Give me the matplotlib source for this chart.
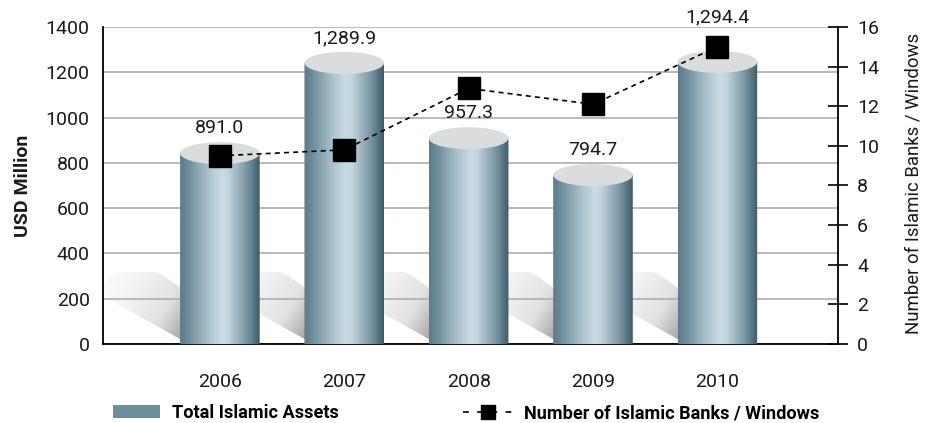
import numpy as np
import matplotlib
matplotlib.use("Agg")
import matplotlib.pyplot as plt
from matplotlib.patches import Ellipse, Polygon, Patch
from matplotlib.lines import Line2D
from matplotlib.colors import LinearSegmentedColormap

years = ["2006", "2007", "2008", "2009", "2010"]
assets = [891.0, 1289.9, 957.3, 794.7, 1294.4]     # USD million
banks = [9.5, 9.8, 12.9, 12.1, 15.0]               # number of banks / windows

plt.rcParams["font.family"] = ["Roboto", "DejaVu Sans"]

fig = plt.figure(figsize=(9.26, 4.23), dpi=100)
ax = fig.add_axes([103 / 926, 79 / 423, 735 / 926, 317 / 423])
xlim = (-0.94, 4.97)
ylim = (0, 1400)
ax.set_xlim(*xlim)
ax.set_ylim(*ylim)

x = np.arange(len(years))

cyl_cmap = LinearSegmentedColormap.from_list("cyl", [
    (0.00, "#5b7b8b"), (0.10, "#6e8c9b"), (0.22, "#8ba5b2"),
    (0.38, "#afc6d0"), (0.52, "#c9dbe4"), (0.60, "#c3d6df"),
    (0.70, "#a3b9c4"), (0.80, "#85a0ac"), (0.90, "#62808d"),
    (1.00, "#3e5a68"),
])
shadow_cmap = LinearSegmentedColormap.from_list("shd", ["#fcfcfc", "#e2e2e2", "#7a7a7a"])


def px_offset(cx, cy, dx, dy):
    # shift a data point by some pixels, back into data coords
    X0, Y0 = ax.transData.transform((cx, cy))
    return ax.transData.inverted().transform((X0 + dx, Y0 + dy))


bar_w = 0.64
ell_px = 11
ell_h = px_offset(0, 0, 0, ell_px)[1]

for c, v in zip(x, assets):
    # shadow behind the cylinder, thrown to the upper left
    shape_px = [(-116, 56), (-114, 64), (-109, 69), (-100, 72), (-64, 72),
                (-56, 68), (40, 0), (-31, 0), (-113, 46)]
    pts = np.array([px_offset(c, 0, dx, dy) for dx, dy in shape_px])
    shadow = Polygon(pts, closed=True, transform=ax.transData)
    gx, gy = np.meshgrid(np.linspace(-118, 42, 120), np.linspace(0, 74, 60))
    t = np.clip(((gx + 115) + 0.6 * (72 - gy)) / 140, 0, 1) ** 1.3
    lo = px_offset(c, 0, -118, 0)
    hi = px_offset(c, 0, 42, 74)
    im = ax.imshow(t, cmap=shadow_cmap, vmin=0, vmax=1, origin="lower",
                   extent=[lo[0], hi[0], lo[1], hi[1]], aspect="auto",
                   interpolation="bilinear", zorder=0.2, clip_path=shadow)
    im.set_clip_box(None)

    # cylinder body
    top_c = v - ell_h
    half = bar_w / 2
    th = np.linspace(np.pi, 2 * np.pi, 60)
    outline = [(c - half, top_c)] + list(zip(c + half * np.cos(th), ell_h * np.sin(th))) + [(c + half, top_c)]
    body = Polygon(outline, closed=True, transform=ax.transData)
    grad = np.linspace(0, 1, 256).reshape(1, -1)
    im = ax.imshow(grad, cmap=cyl_cmap, extent=[c - half, c + half, -ell_h, top_c],
                   aspect="auto", interpolation="bilinear", zorder=3, clip_path=body)
    im.set_clip_box(None)
    ax.add_patch(Ellipse((c, top_c), bar_w, 2 * ell_h, facecolor="#dadcde",
                         edgecolor="none", zorder=3.5, clip_on=False))

ax.set_xlim(*xlim)
ax.set_ylim(*ylim)

# value labels (2010 sits above the marker)
label_off = [10, 10, 10, 10, 24]
for c, v, off in zip(x, assets, label_off):
    ax.annotate(f"{v:,.1f}", (c, v), xytext=(0, off), textcoords="offset points",
                ha="center", va="center", fontsize=14, color="#1a1a1a", zorder=6)

ax.set_axisbelow(True)
ax.yaxis.grid(True, color="#b4b4b4", lw=1.3)
ax.set_yticks(range(0, 1401, 200))
ax.set_xticks(x)
ax.set_xticklabels(years)
ax.tick_params(axis="y", length=0, pad=9.5, labelsize=14, labelcolor="#1a1a1a")
ax.tick_params(axis="x", length=0, pad=21, labelsize=14, labelcolor="#1a1a1a")
for s in ["top", "right"]:
    ax.spines[s].set_visible(False)
for s in ["left", "bottom"]:
    ax.spines[s].set_color("black")
    ax.spines[s].set_linewidth(1.3)
ax.set_ylabel("USD Million", fontsize=14, fontweight="bold", color="#1a1a1a")
ax.yaxis.set_label_coords(-0.097, 0.5)

ax2 = ax.twinx()
ax2.set_ylim(0, 16)
ax2.set_yticks(range(0, 17, 2))
ax2.plot(x, banks, color="black", ls=(0, (3, 2.5)), lw=1.2, marker="s",
         ms=15.8, mfc="black", mec="black", zorder=5, clip_on=False)
ax2.tick_params(axis="y", direction="inout", length=14.4, width=1.2, pad=6.5,
                labelsize=14, labelcolor="#1a1a1a")
for s in ["top", "left", "bottom"]:
    ax2.spines[s].set_visible(False)
ax2.spines["right"].set_color("black")
ax2.spines["right"].set_linewidth(1.3)
ax2.set_ylabel("Number of Islamic Banks / Windows", fontsize=13.4, color="#1a1a1a")
ax2.yaxis.set_label_coords(1.09, 0.505)
ax2.set_xlim(*xlim)

fs = 13.1
fpx = fs * 100 / 72
leg_y = 1 - 413 / 423
fig.legend(handles=[Patch(facecolor="#6f8e9b", edgecolor="none")],
           labels=["Total Islamic Assets"], loc="center left",
           bbox_to_anchor=(113 / 926, leg_y), frameon=False, borderpad=0,
           borderaxespad=0, handlelength=47 / fpx, handleheight=14 / fpx,
           handletextpad=12 / fpx, prop=dict(weight="bold", size=fs))
fig.legend(handles=[Line2D([], [], color="black", ls=(0, (3.5, 5)), lw=1.2,
                           marker="s", ms=10)],
           labels=["Number of Islamic Banks / Windows"], loc="center left",
           bbox_to_anchor=(463 / 926, leg_y), frameon=False, borderpad=0,
           borderaxespad=0, handlelength=49 / fpx, handletextpad=12 / fpx,
           prop=dict(weight="bold", size=fs))

fig.savefig("out.png", dpi=100)
